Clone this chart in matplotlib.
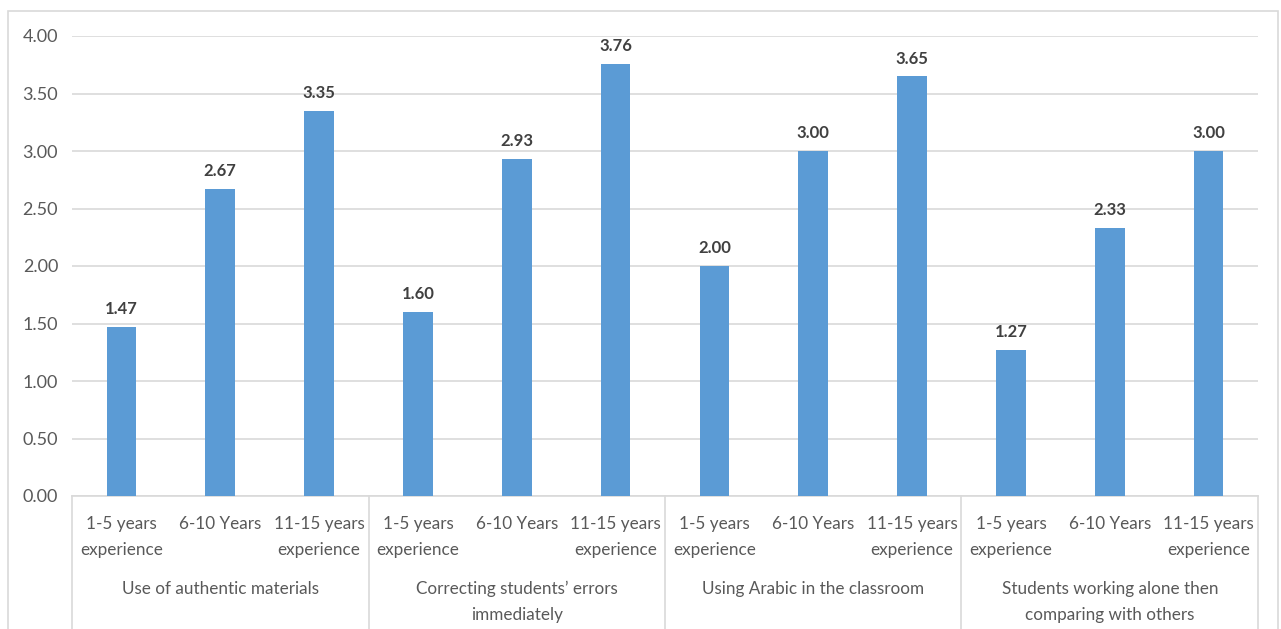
import matplotlib.pyplot as plt
from matplotlib.patches import Rectangle
from matplotlib.lines import Line2D

groups = ["Use of authentic materials",
          "Correcting students\u2019 errors\nimmediately",
          "Using Arabic in the classroom",
          "Students working alone then\ncomparing with others"]
levels = ["1-5 years\nexperience", "6-10 Years", "11-15 years\nexperience"]
values = [1.47, 2.67, 3.35,
          1.60, 2.93, 3.76,
          2.00, 3.00, 3.65,
          1.27, 2.33, 3.00]
yticks = [0.0, 0.5, 1.0, 1.5, 2.0, 2.5, 3.0, 3.5, 4.0]

plt.rcParams['font.family'] = ['Lato', 'DejaVu Sans']

W, H = 1281, 629
fig = plt.figure(figsize=(W / 100, H / 100), dpi=100)

# plot area in pixel units
left, right, top, bottom = 72, 1258, 36, 496
ax = fig.add_axes([left / W, (H - bottom) / H, (right - left) / W, (bottom - top) / H])

# outer chart border
fig.patches.append(Rectangle((8 / W, -0.05), (1278 - 8) / W, (H - 11) / H + 0.05,
                             transform=fig.transFigure, fill=False,
                             edgecolor='#D9D9D9', linewidth=1.2))

grid_c = '#D9D9D9'
text_c = '#595959'
fs = 12.3
x = list(range(len(values)))

ax.bar(x, values, width=0.3, color='#5B9BD5', zorder=3)
for xi, v in zip(x, values):
    ax.annotate(f"{v:.2f}", (xi, v), xytext=(0, 7), textcoords='offset points',
                ha='center', va='bottom', fontsize=12, fontweight='bold', color='#404040')

ax.set_xlim(-0.5, len(values) - 0.5)
ax.set_ylim(0, 4)
ax.set_yticks(yticks)
ax.set_yticklabels([f"{t:.2f}" for t in yticks], fontsize=13, color=text_c)
ax.tick_params(axis='y', length=0, pad=10)
ax.set_xticks([])
ax.grid(axis='y', color=grid_c, linewidth=1.2, zorder=0)
for s in ['top', 'right', 'left']:
    ax.spines[s].set_visible(False)
ax.spines['bottom'].set_color(grid_c)
ax.spines['bottom'].set_linewidth(1.2)


def py(p):
    # pixel row -> axes fraction
    return (bottom - p) / (bottom - top)


xt = ax.get_xaxis_transform()
for i in range(len(values)):
    ax.text(i, py(516), levels[i % 3], transform=xt, ha='center', va='top',
            fontsize=fs, color=text_c, linespacing=1.75)

for g, name in enumerate(groups):
    ax.text(3 * g + 1, py(581), name, transform=xt, ha='center', va='top',
            fontsize=fs, color=text_c, linespacing=1.75)

for b in [-0.5, 2.5, 5.5, 8.5, 11.5]:
    ax.add_line(Line2D([b, b], [0, py(640)], transform=xt, color=grid_c,
                       linewidth=1.2, clip_on=False))

fig.savefig("out.png", dpi=100)
